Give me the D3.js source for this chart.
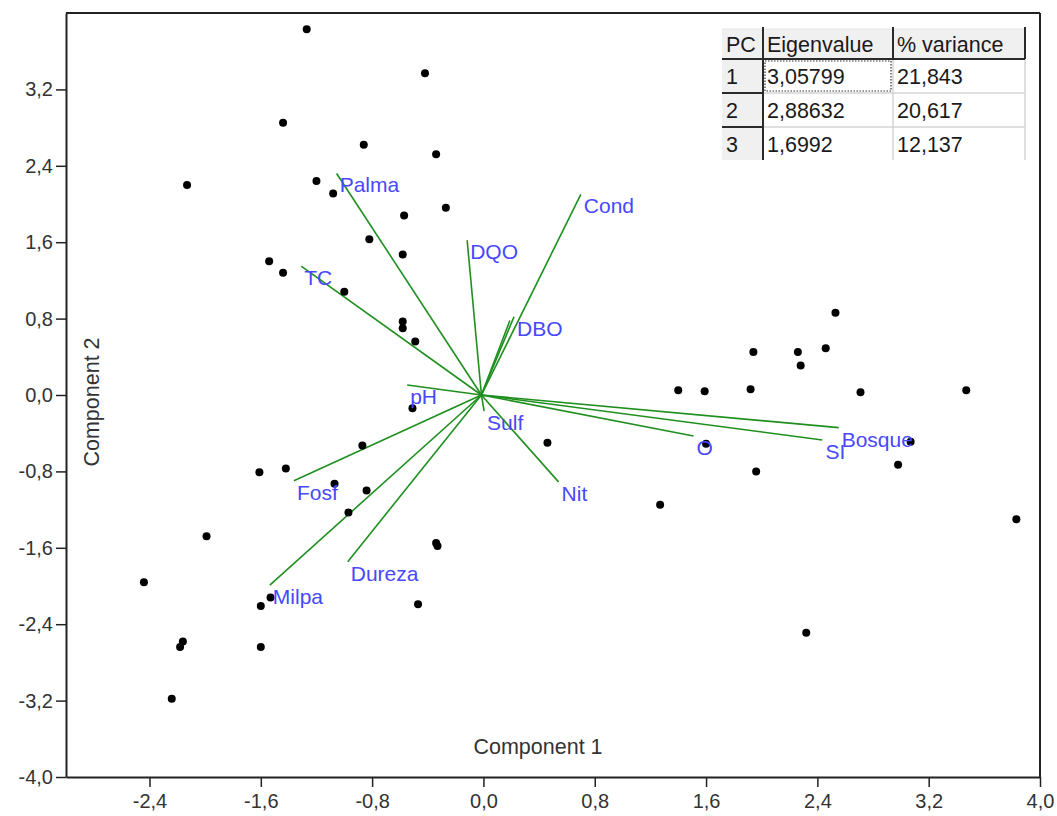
<!DOCTYPE html>
<html>
<head>
<meta charset="utf-8">
<script src="https://cdn.jsdelivr.net/npm/d3@7"></script>
<style>
  html, body { margin: 0; padding: 0; background: #fff; }
  svg { display: block; }
  text { font-family: "Liberation Sans", Arial, sans-serif; }
</style>
</head>
<body>
<svg id="chart" width="1057" height="816"></svg>
<script>
// ---------------- DATA ----------------
const scorePC1 = [
  -1.27, -0.42, -1.44, -0.86, -0.34, -2.13, -1.20, -1.08, -0.27, -0.57, -0.82, -0.58, -1.54, -1.44, -1.00, -0.58, -0.58, -0.49,
  -0.51, -0.87, -1.61, -1.42, -1.07, -0.84, -0.97, -1.99, -0.34, -0.33, -2.44, -1.53, -1.60, -0.47, -2.16, -2.18, -1.60, -2.24,
  2.53, 1.94, 2.26, 2.46, 2.28, 1.40, 1.59, 1.92, 2.71, 3.47, 0.46, 1.60, 3.07, 2.98, 1.96, 1.27, 3.83, 2.32
];
const scorePC2 = [
  3.83, 3.37, 2.85, 2.62, 2.52, 2.20, 2.24, 2.11, 1.96, 1.88, 1.63, 1.47, 1.40, 1.28, 1.08, 0.77, 0.70, 0.56,
  -0.14, -0.53, -0.81, -0.77, -0.93, -1.00, -1.23, -1.48, -1.55, -1.58, -1.96, -2.12, -2.21, -2.19, -2.58, -2.64, -2.64, -3.18,
  0.86, 0.45, 0.45, 0.49, 0.31, 0.05, 0.04, 0.06, 0.03, 0.05, -0.50, -0.51, -0.49, -0.73, -0.80, -1.15, -1.30, -2.49
];

const loadingNames = ["Palma", "TC", "DQO", "Cond", "DBO", "", "pH", "Sulf", "Nit", "O", "SI", "Bosque", "Fosf", "Milpa", "Dureza"];
const loadingPC1   = [-1.055, -1.31, -0.117, 0.70, 0.22, 0.19, -0.548, 0.005, 0.54, 1.51, 2.436, 2.553, -1.362, -1.535, -0.975];
const loadingPC2   = [2.32, 1.35, 1.62, 2.10, 0.82, 0.78, 0.105, -0.17, -0.91, -0.43, -0.471, -0.342, -0.897, -1.99, -1.745];

const xTicks = [-2.4, -1.6, -0.8, 0.0, 0.8, 1.6, 2.4, 3.2, 4.0];
const yTicks = [-4.0, -3.2, -2.4, -1.6, -0.8, 0.0, 0.8, 1.6, 2.4, 3.2];

const xTitle = "Component 1";
const yTitle = "Component 2";

const tableHeader = ["PC", "Eigenvalue", "% variance"];
const tablePC = ["1", "2", "3"];
const tableEigen = ["3,05799", "2,88632", "1,6992"];
const tableVariance = ["21,843", "20,617", "12,137"];

// ---------------- LAYOUT ----------------
(function () {
const svg = d3.select("#chart");
const pLeft = 66, pRight = 1040, pTop = 13, pBottom = 777;

const x = d3.scaleLinear().domain([-3, 4]).range([pLeft, pRight]);
const y = d3.scaleLinear().domain([-4, 4]).range([pBottom, pTop]);

const fmt = v => (Math.abs(v) < 1e-9 ? 0 : v).toFixed(1).replace(".", ",");

// frame (top and right)
svg.append("line").attr("x1", pLeft).attr("x2", pRight).attr("y1", pTop).attr("y2", pTop)
  .attr("stroke", "#222").attr("stroke-width", 2);
svg.append("line").attr("x1", pRight).attr("x2", pRight).attr("y1", pTop).attr("y2", pBottom)
  .attr("stroke", "#222").attr("stroke-width", 2);

// axes
const xAxis = svg.append("g").attr("transform", `translate(0,${pBottom})`)
  .call(d3.axisBottom(x).tickValues(xTicks).tickFormat(fmt).tickSize(10).tickPadding(7).tickSizeOuter(0));
const yAxis = svg.append("g").attr("transform", `translate(${pLeft},0)`)
  .call(d3.axisLeft(y).tickValues(yTicks).tickFormat(fmt).tickSize(10).tickPadding(3).tickSizeOuter(0));

[xAxis, yAxis].forEach(g => {
  g.select(".domain").attr("stroke", "#222").attr("stroke-width", 2);
  g.selectAll(".tick line").attr("stroke", "#222").attr("stroke-width", 1.5);
  g.selectAll(".tick text").attr("fill", "#333").style("font-size", "20px")
    .style("font-family", "'Liberation Sans', Arial, sans-serif");
});

// axis titles (inside plot area)
svg.append("text").attr("x", 538).attr("y", 754).attr("text-anchor", "middle")
  .attr("fill", "#333").style("font-size", "21.5px").text(xTitle);
svg.append("text").attr("transform", "translate(99,402) rotate(-90)").attr("text-anchor", "middle")
  .attr("fill", "#333").style("font-size", "21.5px").text(yTitle);

// loading vectors
const loadings = loadingNames.map((n, i) => ({ name: n, a: loadingPC1[i], b: loadingPC2[i] }));
svg.append("g").selectAll("line").data(loadings).join("line")
  .attr("x1", x(0) - 2).attr("y1", y(0))
  .attr("x2", d => x(d.a)).attr("y2", d => y(d.b))
  .attr("stroke", "#1f8f1f").attr("stroke-width", 1.6);

// score points
const scores = scorePC1.map((v, i) => ({ a: v, b: scorePC2[i] }));
svg.append("g").selectAll("circle").data(scores).join("circle")
  .attr("cx", d => x(d.a)).attr("cy", d => y(d.b)).attr("r", 4).attr("fill", "#000");

// loading labels
svg.append("g").selectAll("text").data(loadings.filter(d => d.name !== "")).join("text")
  .attr("x", d => x(d.a) + 3).attr("y", d => y(d.b) + 19)
  .attr("fill", "#4848ff").style("font-size", "21px")
  .text(d => d.name);

// ---------------- TABLE ----------------
const colX = [722, 763, 893, 1025];
const rowY = [29, 59, 93, 127, 160];
const tg = svg.append("g");

tg.append("rect").attr("x", colX[0]).attr("y", rowY[0]).attr("width", colX[3] - colX[0]).attr("height", rowY[1] - rowY[0]).attr("fill", "#f0f0f0");
tg.append("rect").attr("x", colX[0]).attr("y", rowY[1]).attr("width", colX[1] - colX[0]).attr("height", rowY[4] - rowY[1]).attr("fill", "#f0f0f0");
tg.append("rect").attr("x", colX[1]).attr("y", rowY[1]).attr("width", colX[3] - colX[1]).attr("height", rowY[4] - rowY[1]).attr("fill", "#fff");

[rowY[2], rowY[3]].forEach(yy => tg.append("line").attr("x1", colX[1]).attr("x2", colX[3]).attr("y1", yy).attr("y2", yy).attr("stroke", "#d4d4d4").attr("stroke-width", 1.5));
[colX[2], colX[3]].forEach(xx => tg.append("line").attr("x1", xx).attr("x2", xx).attr("y1", rowY[1]).attr("y2", rowY[4]).attr("stroke", "#d4d4d4").attr("stroke-width", 1.5));
tg.append("line").attr("x1", colX[0]).attr("x2", colX[3]).attr("y1", rowY[0]).attr("y2", rowY[0]).attr("stroke", "#e6e6e6").attr("stroke-width", 1);

tg.append("line").attr("x1", colX[0]).attr("x2", colX[3]).attr("y1", rowY[1]).attr("y2", rowY[1]).attr("stroke", "#2a2a2a").attr("stroke-width", 2);
tg.append("line").attr("x1", colX[1]).attr("x2", colX[1]).attr("y1", rowY[0] - 2).attr("y2", rowY[4]).attr("stroke", "#2a2a2a").attr("stroke-width", 2);
tg.append("line").attr("x1", colX[2]).attr("x2", colX[2]).attr("y1", rowY[0] - 2).attr("y2", rowY[1]).attr("stroke", "#2a2a2a").attr("stroke-width", 2);
tg.append("line").attr("x1", colX[3]).attr("x2", colX[3]).attr("y1", rowY[0] - 2).attr("y2", rowY[1]).attr("stroke", "#2a2a2a").attr("stroke-width", 2);
[rowY[2], rowY[3]].forEach(yy => tg.append("line").attr("x1", colX[0]).attr("x2", colX[1]).attr("y1", yy).attr("y2", yy).attr("stroke", "#2a2a2a").attr("stroke-width", 2));

tg.append("rect").attr("x", colX[1] + 2).attr("y", rowY[1] + 2).attr("width", colX[2] - colX[1] - 4).attr("height", rowY[2] - rowY[1] - 4)
  .attr("fill", "none").attr("stroke", "#333").attr("stroke-width", 1.2).attr("stroke-dasharray", "1.5,1.5");

const tstyle = sel => sel.attr("fill", "#1a1a1a").style("font-size", "21.5px");
tableHeader.forEach((t, i) => tstyle(tg.append("text").attr("x", colX[i] + 4).attr("y", rowY[0] + 23).text(t)));
tablePC.forEach((t, r) => tstyle(tg.append("text").attr("x", colX[0] + 4).attr("y", rowY[r + 1] + 25).text(t)));
tableEigen.forEach((t, r) => tstyle(tg.append("text").attr("x", colX[1] + 4).attr("y", rowY[r + 1] + 25).text(t)));
tableVariance.forEach((t, r) => tstyle(tg.append("text").attr("x", colX[2] + 4).attr("y", rowY[r + 1] + 25).text(t)));
})();
</script>
</body>
</html>
